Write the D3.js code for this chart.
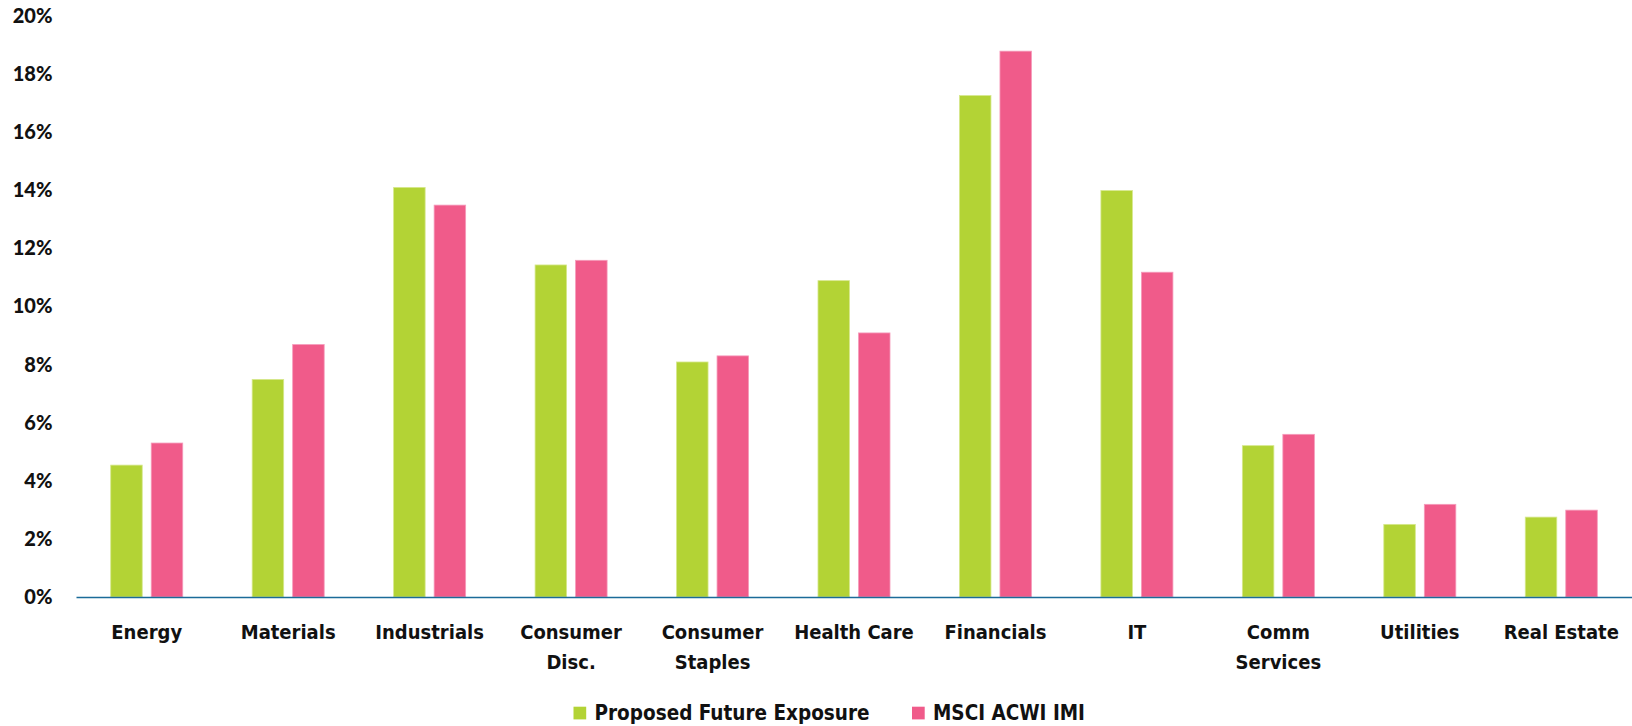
<!DOCTYPE html>
<html>
<head>
<meta charset="utf-8">
<script src="https://cdn.jsdelivr.net/npm/d3@7"></script>
<style>
  html, body { margin: 0; padding: 0; background: #ffffff; }
  svg { display: block; }
  .ytick text { font-family: Lato, "Open Sans", sans-serif; font-weight: 900; font-size: 20px; fill: #111; }
  .xlab text { font-family: "DejaVu Sans Condensed", "DejaVu Sans", sans-serif; font-weight: bold; font-size: 20px; fill: #111; }
  .legend text { font-family: "DejaVu Sans Condensed", "DejaVu Sans", sans-serif; font-weight: bold; font-size: 20.5px; fill: #111; }
</style>
</head>
<body>
<svg id="chart" width="1632" height="726"></svg>
<script>
// Sector weights (%)
const categories = [
  ["Energy"], ["Materials"], ["Industrials"], ["Consumer", "Disc."], ["Consumer", "Staples"],
  ["Health Care"], ["Financials"], ["IT"], ["Comm", "Services"], ["Utilities"], ["Real Estate"]
];
const seriesNames = ["Proposed Future Exposure", "MSCI ACWI IMI"];
const proposed = [4.54, 7.49, 14.10, 11.43, 8.09, 10.89, 17.26, 13.99, 5.21, 2.50, 2.75];
const msci     = [5.30, 8.69, 13.49, 11.59, 8.30, 9.09, 18.79, 11.18, 5.60, 3.19, 2.99];
const yTicks = [0, 2, 4, 6, 8, 10, 12, 14, 16, 18, 20];

const colors = ["#b3d335", "#f05b8a"];
const edgeColors = ["#d6e88c", "#f59bbb"];

const svg = d3.select("#chart");
const plot = { left: 76, right: 1632, top: 16, bottom: 597 };

const catKeys = categories.map(c => c.join(" "));
const x0 = d3.scaleBand().domain(catKeys).range([plot.left, plot.right]).paddingInner(0).paddingOuter(0);
const x1 = d3.scaleBand().domain(seriesNames).range([0, x0.bandwidth()]).paddingInner(0.222).paddingOuter(0.857);
const y = d3.scaleLinear().domain([0, 20]).range([plot.bottom, plot.top]);

// y axis labels
const yAxis = d3.axisLeft(y).tickValues(yTicks).tickSize(0).tickPadding(23.5).tickFormat(d => d + "%");
const yg = svg.append("g").attr("class", "ytick").attr("transform", `translate(${plot.left},0)`).call(yAxis);
yg.select(".domain").remove();
yg.selectAll("text").attr("dy", "0.32em");

// bars
const rows = catKeys.map((k, i) => ({ key: k, vals: [proposed[i], msci[i]] }));
const groups = svg.append("g").selectAll("g").data(rows).join("g")
  .attr("transform", d => `translate(${x0(d.key)},0)`);
groups.selectAll("rect").data(d => d.vals.map((v, j) => ({ v, j })))
  .join("rect")
  .attr("x", d => x1(seriesNames[d.j]))
  .attr("width", x1.bandwidth())
  .attr("y", d => y(d.v))
  .attr("height", d => y(0) - y(d.v))
  .attr("fill", d => colors[d.j])
  .attr("stroke", d => edgeColors[d.j])
  .attr("stroke-width", 0.8);

// x axis baseline + category labels
const xAxis = d3.axisBottom(x0).tickSize(0).tickSizeOuter(0).tickFormat("");
const xg = svg.append("g").attr("transform", `translate(0,${plot.bottom})`).call(xAxis);
xg.select(".domain").attr("stroke", "#1b6b99").attr("stroke-width", 1.6);

const lab = svg.append("g").attr("class", "xlab");
categories.forEach((lines, i) => {
  const cx = x0(catKeys[i]) + x0.bandwidth() / 2;
  const t = lab.append("text").attr("x", cx).attr("y", 639).attr("text-anchor", "middle");
  lines.forEach((ln, k) => {
    t.append("tspan").attr("x", cx).attr("dy", k === 0 ? 0 : 30).text(ln);
  });
});

// legend
const legend = svg.append("g").attr("class", "legend");
const legendItems = [
  { name: seriesNames[0], color: colors[0], sx: 573.5 },
  { name: seriesNames[1], color: colors[1], sx: 912 }
];
legendItems.forEach(it => {
  legend.append("rect").attr("x", it.sx).attr("y", 706.7).attr("width", 12.7).attr("height", 12.7).attr("fill", it.color);
  legend.append("text").attr("x", it.sx + 21).attr("y", 720).text(it.name);
});
</script>
</body>
</html>
